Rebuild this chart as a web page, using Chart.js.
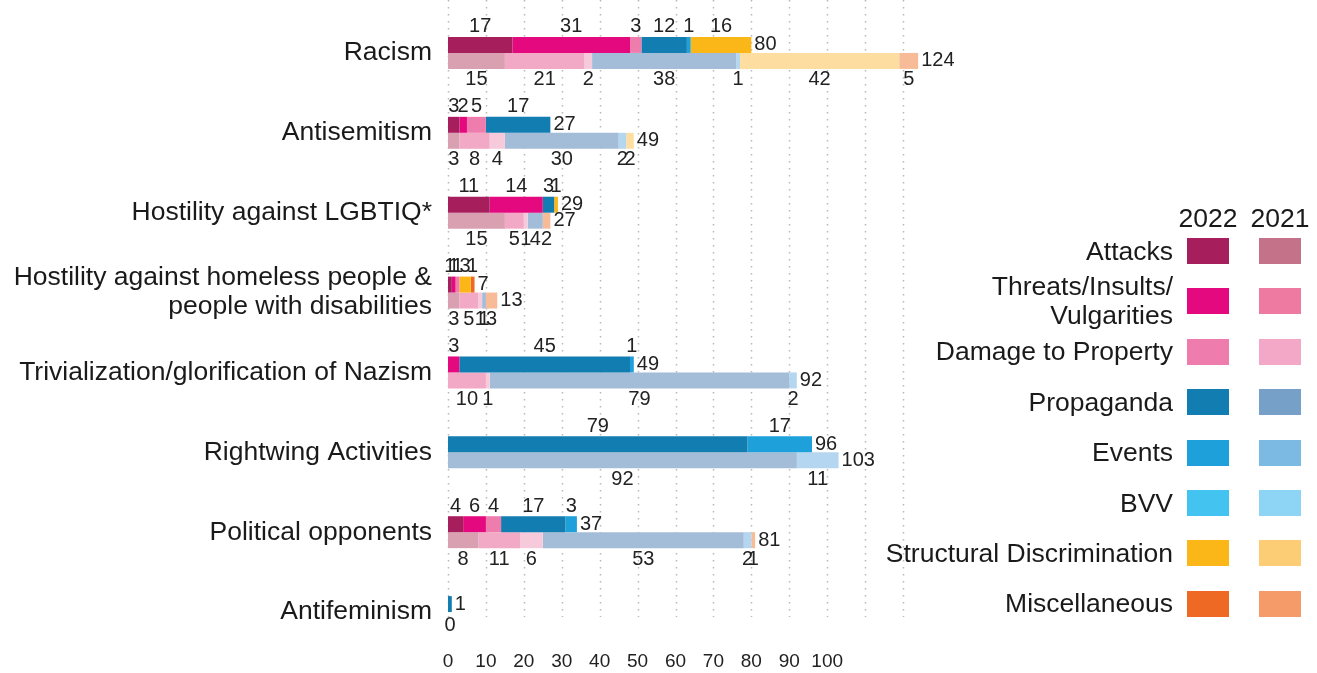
<!DOCTYPE html>
<html>
<head>
<meta charset="utf-8">
<script src="https://cdn.jsdelivr.net/npm/chart.js@4"></script>
<style>
    body { margin: 0; background: #fff; font-family: "Liberation Sans", Arial, sans-serif; }
    #wrap { position: relative; width: 1317px; height: 673px; }
    #legend { position: absolute; left: 0; top: 0; width: 1317px; height: 673px; pointer-events: none; color: #1a1a1a; }
    .lg-txt { position: absolute; right: 144px; text-align: right; font-size: 26.5px; line-height: 29px; white-space: nowrap; }
    .lg-head { position: absolute; font-size: 26.5px; line-height: 29px; width: 70px; text-align: center; }
    .lg-box { position: absolute; width: 42px; height: 26px; }
</style>
</head>
<body>
<div id="wrap">
    <canvas id="chart" width="1317" height="673"></canvas>
    <div id="legend"></div>
</div>
<script>
// categorie (asse y)
const categories = [
    'Racism',
    'Antisemitism',
    'Hostility against LGBTIQ*',
    ['Hostility against homeless people &', 'people with disabilities'],
    'Trivialization/glorification of Nazism',
    'Rightwing Activities',
    'Political opponents',
    'Antifeminism'
];
const seriesNames = ['Attacks', 'Threats/Insults/\nVulgarities', 'Damage to Property', 'Propaganda',
    'Events', 'BVV', 'Structural Discrimination', 'Miscellaneous'];

// valori 2022
const attacks2022 = [17, 3, 11, 1, 0, 0, 4, 0];
const threats2022 = [31, 2, 14, 1, 3, 0, 6, 0];
const damage2022 = [3, 5, 0, 1, 0, 0, 4, 0];
const propaganda2022 = [12, 17, 3, 0, 45, 79, 17, 1];
const events2022 = [1, 0, 0, 0, 1, 17, 3, 0];
const bvv2022 = [0, 0, 0, 0, 0, 0, 0, 0];
const structural2022 = [16, 0, 1, 3, 0, 0, 0, 0];
const misc2022 = [0, 0, 0, 1, 0, 0, 0, 0];

// valori 2021
const attacks2021 = [15, 3, 15, 3, 0, 0, 8, 0];
const threats2021 = [21, 8, 5, 5, 10, 0, 11, 0];
const damage2021 = [2, 4, 1, 1, 1, 0, 6, 0];
const propaganda2021 = [38, 30, 4, 1, 79, 92, 53, 0];
const events2021 = [1, 2, 0, 0, 2, 11, 2, 0];
const bvv2021 = [0, 0, 0, 0, 0, 0, 0, 0];
const structural2021 = [42, 2, 0, 0, 0, 0, 0, 0];
const misc2021 = [5, 0, 2, 3, 0, 0, 1, 0];

// totali scritti a fine barra
const totals2022 = [80, 27, 29, 7, 49, 96, 37, 1];
const totals2021 = [124, 49, 27, 13, 92, 103, 81, 0];

// etichette asse x
const xTicks = [0, 10, 20, 30, 40, 50, 60, 70, 80, 90, 100];

const colors2022 = ['#A61E5C', '#E4097E', '#EE7DAE', '#127DB0', '#1EA1DB', '#43C4F0', '#FBB718', '#EE6A24'];
const colors2021 = ['#D8A0B0', '#F2A9C5', '#F7CADB', '#A3BCD8', '#B4D6F0', '#C4E7F8', '#FEDEA0', '#F8BB97'];
const legend2021 = ['#C4718A', '#EE7AA2', '#F3A8C8', '#76A0C8', '#7CB9E3', '#8ED4F4', '#FCCD74', '#F59B6A'];

const values2022 = [attacks2022, threats2022, damage2022, propaganda2022, events2022, bvv2022, structural2022, misc2022];
const values2021 = [attacks2021, threats2021, damage2021, propaganda2021, events2021, bvv2021, structural2021, misc2021];

const datasets = [];
values2022.forEach((v, i) => datasets.push({
    label: seriesNames[i] + ' 2022', data: v, stack: '2022',
    backgroundColor: colors2022[i], borderWidth: 0, clip: false
}));
values2021.forEach((v, i) => datasets.push({
    label: seriesNames[i] + ' 2021', data: v, stack: '2021',
    backgroundColor: colors2021[i], borderWidth: 0, clip: false
}));

const FONT = '"Liberation Sans", Arial, sans-serif';

// griglia verticale tratteggiata
const dottedGrid = {
    id: 'dottedGrid',
    beforeDatasetsDraw(chart) {
        const { ctx, scales: { x } } = chart;
        ctx.save();
        ctx.strokeStyle = '#b8b8b8';
        ctx.lineWidth = 1.5;
        ctx.setLineDash([1.5, 5.5]);
        for (let v = 0; v <= 120; v += 10) {
            const px = Math.round(x.getPixelForValue(v)) + 0.5;
            ctx.beginPath();
            ctx.moveTo(px, 0);
            ctx.lineTo(px, 617);
            ctx.stroke();
        }
        ctx.restore();
    }
};

// numeri sopra/sotto i segmenti e totali
const segmentLabels = {
    id: 'segmentLabels',
    afterDatasetsDraw(chart) {
        const { ctx, scales: { x } } = chart;
        ctx.save();
        ctx.font = '20px ' + FONT;
        ctx.fillStyle = '#222';
        ctx.textBaseline = 'middle';
        ['2022', '2021'].forEach(stack => {
            const idx = chart.data.datasets.map((d, k) => d.stack === stack ? k : -1).filter(k => k >= 0);
            const totals = stack === '2022' ? totals2022 : totals2021;
            categories.forEach((c, i) => {
                const els = idx.map(k => ({ v: chart.data.datasets[k].data[i], el: chart.getDatasetMeta(k).data[i] }));
                const nonZero = els.filter(e => e.v > 0);
                const ref = els[0].el;
                if (nonZero.length > 1) {
                    ctx.textAlign = 'center';
                    nonZero.forEach(e => {
                        const cx = (e.el.x + e.el.base) / 2;
                        const y = stack === '2022' ? e.el.y - e.el.height / 2 - 10 : e.el.y + e.el.height / 2 + 11;
                        ctx.fillText(String(e.v), cx, y);
                    });
                }
                if (nonZero.length === 0) {
                    // barra vuota: lo zero va sotto
                    ctx.textAlign = 'center';
                    ctx.fillText(String(totals[i]), x.getPixelForValue(0) + 2, ref.y + 5);
                    return;
                }
                const endX = Math.max(...nonZero.map(e => e.el.x));
                ctx.textAlign = 'left';
                ctx.fillText(String(totals[i]), endX + 3, ref.y);
            });
        });
        ctx.restore();
    }
};

new Chart(document.getElementById('chart'), {
    type: 'bar',
    data: { labels: categories, datasets: datasets },
    options: {
        indexAxis: 'y',
        responsive: false,
        animation: false,
        categoryPercentage: 0.4,
        barPercentage: 1,
        layout: { padding: { top: 13, right: 414, bottom: 0, left: 0 } },
        plugins: { legend: { display: false }, tooltip: { enabled: false } },
        scales: {
            x: {
                type: 'linear', min: 0, max: 120, stacked: true,
                grid: { display: false, drawTicks: false }, border: { display: false },
                afterBuildTicks: s => { s.ticks = xTicks.map(v => ({ value: v })); },
                afterFit: s => { s.height = 21; s.paddingLeft = 0; s.paddingRight = 0; },
                ticks: { autoSkip: false, maxRotation: 0, padding: -2, color: '#222', font: { family: FONT, size: 19 } }
            },
            y: {
                stacked: true,
                grid: { display: false, drawTicks: false }, border: { display: false },
                afterFit: s => { s.width = 448; s.paddingTop = 0; s.paddingBottom = 0; },
                ticks: { padding: 16, color: '#1a1a1a', font: { family: FONT, size: 26.5, lineHeight: 1.1 } }
            }
        }
    },
    plugins: [dottedGrid, segmentLabels]
});

// legenda a due colonne
const legendBox = document.getElementById('legend');
legendBox.innerHTML += `<div class="lg-head" style="left:1173px;top:204px">2022</div>`;
legendBox.innerHTML += `<div class="lg-head" style="left:1245px;top:204px">2021</div>`;
seriesNames.forEach((name, i) => {
    const cy = 251 + i * 50.4;
    const lines = name.split('\n');
    const top = cy - lines.length * 29 / 2;
    legendBox.innerHTML += `<div class="lg-txt" style="top:${top}px">${lines.join('<br>')}</div>`;
    legendBox.innerHTML += `<div class="lg-box" style="left:1187px;top:${cy - 13}px;background:${colors2022[i]}"></div>`;
    legendBox.innerHTML += `<div class="lg-box" style="left:1259px;top:${cy - 13}px;background:${legend2021[i]}"></div>`;
});
</script>
</body>
</html>
